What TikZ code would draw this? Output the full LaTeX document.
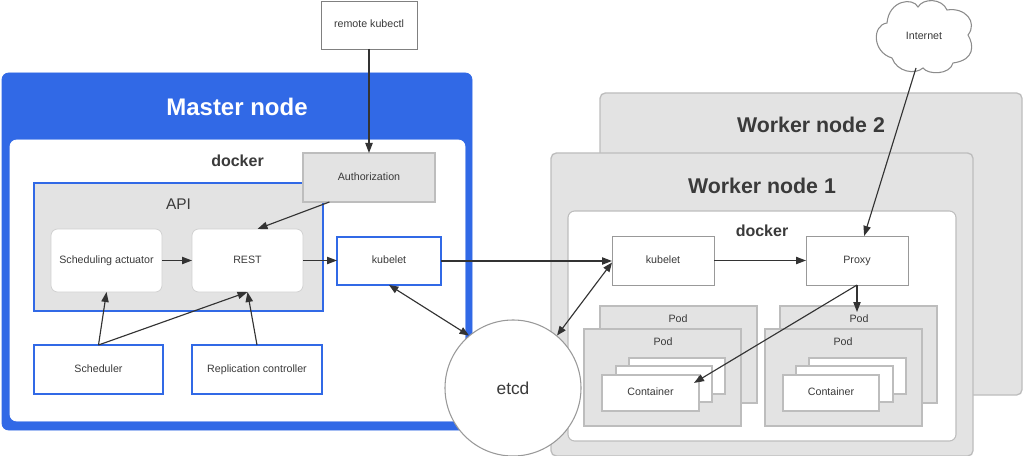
\documentclass[tikz,border=0pt]{standalone}
\usepackage{fontspec}
\setmainfont{Liberation Sans}
\usetikzlibrary{arrows.meta,calc}
\definecolor{kblue}{HTML}{3169E6}
\definecolor{kgray}{HTML}{E3E3E3}
\definecolor{kedge}{HTML}{BDBDBD}
\definecolor{ktext}{HTML}{3A3A3A}
\definecolor{kline}{HTML}{333333}
\tikzset{
  base/.style={rectangle,inner sep=0pt,outer sep=0pt,text=ktext,font=\fontsize{8}{9.6}\selectfont,text height=6pt,text depth=2.2pt,align=center},
  masterbox/.style={base,fill=kblue,draw=kblue,line width=0.6pt,rounded corners=5pt},
  whitepanel/.style={base,fill=white,draw=kedge,line width=0.8pt,rounded corners=5pt},
  innerpanel/.style={base,fill=white,draw=white,line width=0.6pt,rounded corners=5pt},
  workerbox/.style={base,fill=kgray,draw=kedge,line width=1pt,rounded corners=4pt},
  bluebox/.style={base,fill=white,draw=kblue,line width=2.1pt},
  apibox/.style={base,fill=kgray,draw=kblue,line width=2.1pt},
  softbox/.style={base,fill=white,draw=kedge!70,line width=0.6pt,rounded corners=5pt},
  graybox/.style={base,fill=kgray,draw=kedge,line width=1pt},
  plainbox/.style={base,fill=white,draw=black!50,line width=0.7pt},
  wbox/.style={base,fill=white,draw=black!40,line width=0.75pt},
  podbox/.style={base,fill=kgray,draw=kedge,line width=0.9pt},
  contbox/.style={base,fill=white,draw=kedge,line width=0.9pt},
  caption/.style={text=ktext,inner sep=0pt,font=\fontsize{8}{9.6}\selectfont},
  bigtitle/.style={text=ktext,inner sep=0pt,font=\fontsize{16}{19}\selectfont\bfseries},
  midtitle/.style={text=ktext,inner sep=0pt,font=\fontsize{12}{14}\selectfont\bfseries},
  conn/.style={draw=kline,line width=0.85pt,-{Triangle[length=7.5pt,width=5.5pt]}},
  bothconn/.style={draw=kline,line width=0.85pt,{Triangle[length=7pt,width=5.5pt]}-{Triangle[length=7pt,width=5.5pt]}},
}
\newcommand{\bx}[7]{\node[#1,minimum width={(#5-#3)*0.75pt},minimum height={(#6-#4)*0.75pt}] (#2) at ({(#3+#5)/2},{(#4+#6)/2}) {#7};}
\begin{document}
\begin{tikzpicture}[x=0.75pt,y=-0.75pt]
\useasboundingbox (0,0) rectangle (1024,456);
\fill[white] (0,0) rectangle (1024,456);
% worker node 2
\bx{workerbox}{worker2}{600}{93}{1022}{395}{}
\node[bigtitle] (worker2t) at (811,125) {Worker node 2};
% worker node 1
\bx{workerbox}{worker1}{551}{153}{973}{456}{}
\node[bigtitle] (worker1t) at (762,186) {Worker node 1};
\bx{whitepanel}{wdocker}{568}{211}{956}{441}{}
\node[midtitle] (wdockert) at (762,230.5) {docker};
% master node
\bx{masterbox}{master}{2}{73}{472}{430}{}
\node[bigtitle,text=white,font=\fontsize{18}{21}\selectfont\bfseries] (mastert) at (237,107) {Master node};
\bx{innerpanel}{mdocker}{10}{140}{465}{421}{}
\node[midtitle] (mdockert) at (237.5,160.5) {docker};
% API
\bx{apibox}{api}{34}{183}{323}{311}{}
\node[caption,font=\fontsize{11.6}{14}\selectfont] (apit) at (178.5,204) {API};
\bx{softbox}{actuator}{51}{229}{162}{292}{Scheduling actuator}
\bx{softbox}{rest}{192}{229}{303}{292}{REST}
\bx{graybox}{auth}{303}{153}{435}{202}{Authorization}
\bx{bluebox}{kubelet}{337}{237}{441}{285}{kubelet}
\bx{bluebox}{scheduler}{34}{345}{163}{394}{Scheduler}
\bx{bluebox}{replication}{192}{345}{322}{394}{Replication controller}
\bx{plainbox}{remote}{321}{1}{417}{49}{remote kubectl}
% worker contents
\bx{wbox}{wkubelet}{612}{236}{714}{285}{kubelet}
\bx{wbox}{proxy}{806}{236}{908}{285}{Proxy}
\bx{podbox}{podLb}{600}{306}{757}{403}{}
\node[caption] (podLbt) at (678,319) {Pod};
\bx{podbox}{podLf}{584}{329}{741}{426}{}
\node[caption] (podLft) at (663,342) {Pod};
\bx{contbox}{contLc}{629}{358}{725}{394}{}
\bx{contbox}{contLb}{616}{366}{712}{402}{}
\bx{contbox}{contLa}{602}{375}{699}{411}{Container}
\bx{podbox}{podRb}{780}{306}{937}{403}{}
\node[caption] (podRbt) at (859,319) {Pod};
\bx{podbox}{podRf}{765}{329}{922}{426}{}
\node[caption] (podRft) at (843,342) {Pod};
\bx{contbox}{contRc}{809}{358}{906}{394}{}
\bx{contbox}{contRb}{796}{366}{893}{402}{}
\bx{contbox}{contRa}{783}{375}{879}{411}{Container}
% etcd
\node[circle,fill=white,draw=black!40,line width=0.8pt,minimum size=102pt,inner sep=0pt,text=ktext,font=\fontsize{13}{15}\selectfont] (etcd) at (513,388) {etcd};
% Internet cloud
\draw[fill=white,draw=black!45,line width=0.8pt] (887,23)
  .. controls (889,0) and (913,-3) .. (918,7)
  .. controls (923,-2) and (942,-2) .. (947,10)
  .. controls (965,7) and (978,22) .. (968,35)
  .. controls (974,45) and (975,60) .. (953,63)
  .. controls (950,75) and (928,75) .. (923,68)
  .. controls (915,75) and (897,72) .. (892,58)
  .. controls (872,52) and (872,25) .. (887,23) -- cycle;
\node[caption] (internet) at (924,35.5) {Internet};
\coordinate (cloudfoot) at (916,68);
% connectors
\draw[conn] (remote.south) -- (auth.north);
\draw[conn] ($(auth.south west)!0.2!(auth.south east)$) -- ($(rest.north west)!0.59!(rest.north east)$);
\draw[conn] (actuator.east) -- (rest.west);
\draw[conn] (rest.east) -- (rest.east -| kubelet.west);
\draw[conn] (scheduler.north) -- ($(actuator.south west)!0.5!(actuator.south east)$);
\draw[conn] (scheduler.north) -- (rest.south);
\draw[conn] (replication.north) -- (rest.south);
\draw[bothconn] (kubelet.south) -- (etcd.130);
\draw[conn] (kubelet.east) -- (kubelet.east -| wkubelet.west);
\draw[bothconn] (etcd.50) -- ($(wkubelet.south west)!0.5!(wkubelet.north west)+(0,2)$);
\draw[conn] (wkubelet.east) -- (proxy.west);
\draw[conn] (cloudfoot) -- ($(proxy.north west)!0.57!(proxy.north east)$);
\draw[conn] (proxy.south) -- ($(podRb.north)+(-1.5,6)$);
\draw[conn] (proxy.south) -- ($(contLa.north east)!0.22!(contLa.south east)+(-5,0)$);
\end{tikzpicture}
\end{document}
